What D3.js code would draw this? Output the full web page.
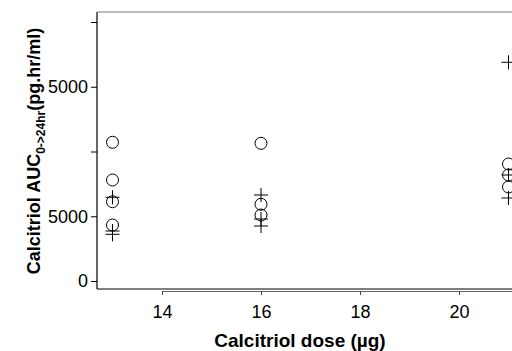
<!DOCTYPE html>
<html><head><meta charset="utf-8">
<script src="https://cdn.jsdelivr.net/npm/d3@7"></script>
<style>body{margin:0;background:#fff}svg{display:block}</style>
</head><body>
<svg id="c" width="512" height="351"></svg>
<script>
// Data
const circleDose = [13,13,13,13,16,16,16,21,21,21];
const circleAUC  = [10710,7800,6124,4324,10633,5923,5097,9035,8185,7259];
const plusDose   = [13,13,13,16,16,16,21,21,21];
const plusAUC    = [6463,3861,3606,6641,4788,4247,16888,8185,6409];
const xTicks = [14,16,18,20];
const yTicks = [0,5000,10000,15000,20000];
const yTickLabels = ["0","5000","","5000",""];

const svg = d3.select("#c");
const x = d3.scaleLinear().domain([14,20]).range([162,459]);
const y = d3.scaleLinear().domain([0,20000]).range([281,22]);
const font = "'Liberation Sans', Arial, sans-serif";

// frame
svg.append("line").attr("x1",97).attr("x2",97).attr("y1",12).attr("y2",289).attr("stroke","#000").attr("stroke-width",1.2);
svg.append("line").attr("x1",97).attr("x2",512).attr("y1",12).attr("y2",12).attr("stroke","#777").attr("stroke-width",1);
svg.append("line").attr("x1",97).attr("x2",512).attr("y1",289).attr("y2",289).attr("stroke","#000").attr("stroke-width",1.2);

// x axis
const xa = svg.append("g").attr("transform","translate(0,291)")
  .call(d3.axisBottom(x).tickValues(xTicks).tickFormat(d3.format("d")).tickSize(4).tickPadding(6).tickSizeOuter(0));
xa.select(".domain").attr("d", `M${x(14)},0.5H540`).attr("stroke","#666");
xa.selectAll(".tick line").attr("stroke","#444");
xa.selectAll("text").style("font-family",font).style("font-size","18px").attr("fill","#000").attr("y",14);

// y axis
const ya = svg.append("g").attr("transform","translate(97,0)")
  .call(d3.axisLeft(y).tickValues(yTicks).tickFormat((d,i)=>yTickLabels[i]).tickSize(6).tickPadding(3).tickSizeOuter(0));
ya.select(".domain").remove();
ya.selectAll(".tick line").attr("stroke","#000");
ya.selectAll("text").style("font-family",font).style("font-size","18px").attr("fill","#000");

// points
const g = svg.append("g");
g.selectAll("circle").data(circleDose).join("circle")
  .attr("cx",(d)=>x(d)).attr("cy",(d,i)=>y(circleAUC[i])).attr("r",6)
  .attr("fill","none").attr("stroke","#000").attr("stroke-width",1);
const s = 7;
g.selectAll("path.plus").data(plusDose).join("path").attr("class","plus")
  .attr("d",(d,i)=>{const cx=x(d), cy=y(plusAUC[i]); return `M${cx-s},${cy}H${cx+s}M${cx},${cy-s}V${cy+s}`;})
  .attr("stroke","#000").attr("stroke-width",1).attr("fill","none");

// titles
svg.append("text").attr("x",300).attr("y",347).attr("text-anchor","middle")
  .style("font-family",font).style("font-weight","bold").style("font-size","19px").text("Calcitriol dose (µg)");
const yt = svg.append("text").attr("transform","translate(40,151) rotate(-90)").attr("text-anchor","middle")
  .style("font-family",font).style("font-weight","bold").style("font-size","18px");
yt.append("tspan").text("Calcitriol AUC");
yt.append("tspan").style("font-size","12px").attr("dy",5).text("0->24hr");
yt.append("tspan").attr("dy",-5).text("(pg.hr/ml)");
</script>
</body></html>
